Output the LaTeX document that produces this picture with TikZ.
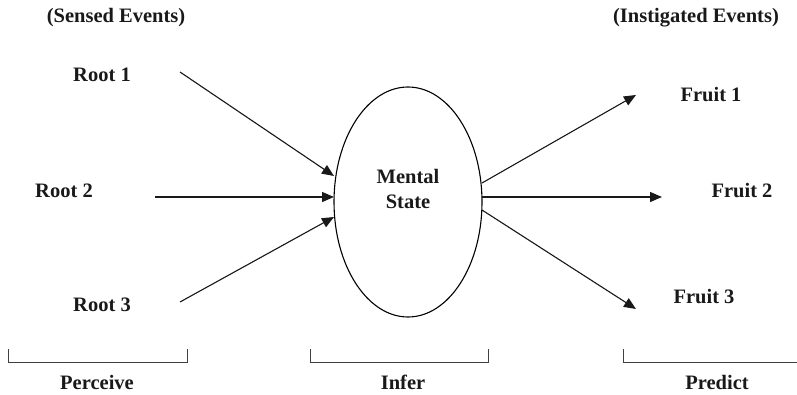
\documentclass[tikz,border=0pt]{standalone}
\usepackage{fontspec}
\setmainfont{Liberation Serif}
\usetikzlibrary{arrows.meta,shapes.geometric}
\begin{document}
\begin{tikzpicture}[x=1pt,y=-1pt,
  lbl/.style={font=\bfseries\fontsize{20.5}{25}\selectfont, inner sep=0pt, anchor=center, text=black!90},
  arr/.style={-{Triangle[length=12pt,width=10pt]}, line width=1.1pt, draw=black!90, fill=black!90},
  brk/.style={line width=1pt, draw=black!75}]
\useasboundingbox (0,0) rectangle (797,395);
\node[draw, line width=1.1pt, ellipse, minimum width=148pt, minimum height=230pt, inner sep=0pt] (ms) at (408,202) {};
\node[lbl, align=center] (mst) at (408,189) {Mental\\State};
\node[lbl] (se) at (116,18) {(Sensed Events)};
\node[lbl] (ie) at (696,18) {(Instigated Events)};
\node[lbl] (r1) at (102,75) {Root 1};
\node[lbl] (r2) at (64,191) {Root 2};
\node[lbl] (r3) at (102,305) {Root 3};
\node[lbl] (f1) at (711,95) {Fruit 1};
\node[lbl] (f2) at (742,191) {Fruit 2};
\node[lbl] (f3) at (704,297) {Fruit 3};
\coordinate (r1s) at (180,72);
\coordinate (r2s) at (155,197);
\coordinate (r3s) at (180,302);
\coordinate (r1e) at (334,176);
\coordinate (r2e) at (334,197);
\coordinate (r3e) at (334,217);
\coordinate (f1s) at (482,183);
\coordinate (f2s) at (482,197);
\coordinate (f3s) at (482,210);
\coordinate (f1e) at (636,95);
\coordinate (f2e) at (662,197);
\coordinate (f3e) at (636,309);
\draw[arr] (r1s) -- (r1e);
\draw[arr] (r2s) -- (r2e);
\draw[arr] (r3s) -- (r3e);
\draw[arr] (f1s) -- (f1e);
\draw[arr] (f2s) -- (f2e);
\draw[arr] (f3s) -- (f3e);
\coordinate (pa) at (8,349); \coordinate (pb) at (187,349);
\coordinate (ia) at (310,349); \coordinate (ib) at (488,349);
\coordinate (qa) at (623,349); \coordinate (qb) at (797,362);
\draw[brk] (pa) -- ++(0,13) -| (pb);
\draw[brk] (ia) -- ++(0,13) -| (ib);
\draw[brk] (qa) -- ++(0,13) -- (qb);
\node[lbl] (pl) at (97,382) {Perceive};
\node[lbl] (il) at (403,382) {Infer};
\node[lbl] (ql) at (717,382) {Predict};
\end{tikzpicture}
\end{document}
